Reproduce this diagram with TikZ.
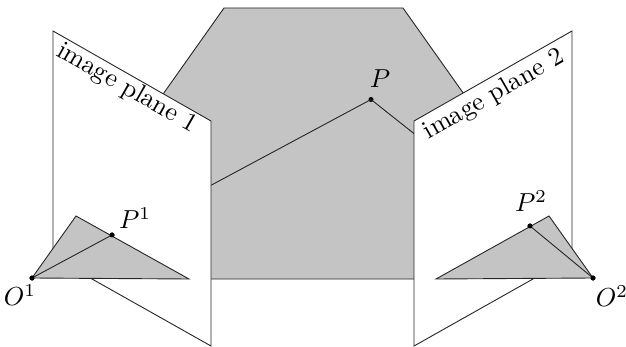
\documentclass[tikz,border=0pt]{standalone}
\tikzset{
  edge/.style={draw=black!85,line width=0.9pt,line join=miter},
  plane/.style={edge,fill=white},
  shade/.style={edge,fill=gfill},
  dotmark/.style={circle,fill=black,inner sep=0pt,minimum size=5pt},
  lab/.style={inner sep=0pt,scale=2.6},
  planelab/.style={inner sep=0pt,scale=2.6}
}
\definecolor{gfill}{HTML}{C4C4C4}
\begin{document}
\begin{tikzpicture}[x=1pt,y=-1pt]
\useasboundingbox (0,0) rectangle (626,347);
\coordinate (A1) at (224,8);
\coordinate (A2) at (403,8);
\coordinate (A3) at (500,145);
\coordinate (A4) at (500,279);
\coordinate (A5) at (127,279);
\coordinate (A6) at (127,145);
\path[shade] (A1) -- (A2) -- (A3) -- (A4) -- (A5) -- (A6) -- cycle;
\node[dotmark] (P) at (371,99.5) {};
\coordinate (Q1) at (150,218);
\coordinate (Q2) at (470,178);
\draw[edge] (P.center) -- (Q1);
\draw[edge] (P.center) -- (Q2);
% image planes
\coordinate (a1) at (53,31);
\coordinate (a2) at (211,121);
\coordinate (a3) at (211,346);
\coordinate (a4) at (53,257);
\path[plane] (a1) -- (a2) -- (a3) -- (a4) -- cycle;
\coordinate (b1) at (572,31);
\coordinate (b2) at (414,121);
\coordinate (b3) at (414,346);
\coordinate (b4) at (572,257);
\path[plane] (b1) -- (b2) -- (b3) -- (b4) -- cycle;
% triangles
\coordinate (t1) at (76,216);
\coordinate (t2) at (189,279);
\coordinate (u1) at (549,216);
\coordinate (u2) at (436,279);
\node[dotmark] (O1) at (32,278) {};
\node[dotmark] (O2) at (593,278) {};
\node[dotmark] (P1) at (112,235) {};
\node[dotmark] (P2) at (530,226) {};
\path[shade] (O1.center) -- (t1) -- (t2) -- cycle;
\path[shade] (O2.center) -- (u1) -- (u2) -- cycle;
\draw[edge] (O1.center) -- (P1.center);
\draw[edge] (O2.center) -- (P2.center);
\node[dotmark] at (O1) {};
\node[dotmark] at (O2) {};
\node[dotmark] at (P1) {};
\node[dotmark] at (P2) {};
% labels
\node[lab] (lP) at (380,79) {$P$};
\node[lab] (lP1) at (135,218) {$P^1$};
\node[lab] (lP2) at (531,201) {$P^2$};
\node[lab] (lO1) at (20,295) {$O^1$};
\node[lab] (lO2) at (612,296) {$O^2$};
\node[planelab,rotate=-29.7] (n1) at (127,88.5) {image plane 1};
\node[planelab,rotate=29.7] (n2) at (494,95) {image plane 2};
\end{tikzpicture}
\end{document}
